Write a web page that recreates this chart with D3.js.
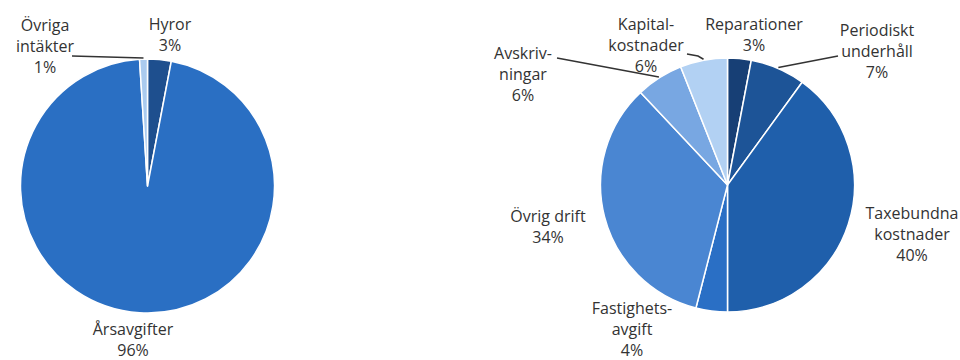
<!DOCTYPE html>
<html lang="sv">
<head>
    <meta charset="UTF-8">
    <title>Intäkter och kostnader</title>
    <script src="https://d3js.org/d3.v7.min.js"></script>
    <style>
        body { margin: 0; background: #fff; }
        text {
            font-family: "Open Sans", "Noto Sans", sans-serif;
            font-size: 16px;
            fill: #333;
        }
    </style>
</head>
<body>
    <div id="chart"></div>

    <script>
        // Data: left pie (intäkter)
        var incomeNames = ["Hyror", "Årsavgifter", "Övriga intäkter"];
        var incomeValues = [3, 96, 1];
        var incomeLabels = [["Hyror", "3%"], ["Årsavgifter", "96%"], ["Övriga", "intäkter", "1%"]];

        // Data: right pie (kostnader)
        var costNames = ["Reparationer", "Periodiskt underhåll", "Taxebundna kostnader",
            "Fastighetsavgift", "Övrig drift", "Avskrivningar", "Kapitalkostnader"];
        var costValues = [3, 7, 40, 4, 34, 6, 6];
        var costLabels = [["Reparationer", "3%"], ["Periodiskt", "underhåll", "7%"],
            ["Taxebundna", "kostnader", "40%"], ["Fastighets-", "avgift", "4%"],
            ["Övrig drift", "34%"], ["Avskriv-", "ningar", "6%"], ["Kapital-", "kostnader", "6%"]];

        var width = 960, height = 360;

        var svg = d3.select("#chart").append("svg")
            .attr("width", width)
            .attr("height", height);

        // layout for each pie: center, radius, colours, label anchors, leader lines
        var leftPie = {
            cx: 147.5, cy: 186, r: 127,
            colors: ["#1e4f8e", "#2a6fc3", "#aacbef"],
            labelPos: [[170, 30], [133, 335], [45, 31]],
            leaders: { 2: [72, 56] }
        };
        var rightPie = {
            cx: 727.5, cy: 185, r: 127,
            colors: ["#173f75", "#1d5497", "#1f5fab", "#2a6fc5", "#4a86d2", "#78a7e2", "#b2d1f3"],
            labelPos: [[754, 30], [877, 36], [912, 219], [632, 314], [548, 222], [523, 59], [646, 30]],
            leaders: { 1: [838, 56], 5: [557, 58], 6: [687, 54, 698, 56] }
        };

        function drawPie(names, values, labels, cfg) {
            var pie = d3.pie().sort(null).value(function (d) { return d; });
            var arcs = pie(values);
            var arc = d3.arc().innerRadius(0).outerRadius(cfg.r);

            var g = svg.append("g")
                .attr("transform", "translate(" + cfg.cx + "," + cfg.cy + ")");

            g.selectAll("path")
                .data(arcs)
                .join("path")
                .attr("d", arc)
                .attr("fill", function (d, i) { return cfg.colors[i]; })
                .attr("stroke", "#fff")
                .attr("stroke-width", 1.5)
                .attr("stroke-linejoin", "round");

            // leader lines go from the label to the outer edge of the slice
            Object.keys(cfg.leaders).forEach(function (k) {
                var a = arcs[k];
                var mid = (a.startAngle + a.endAngle) / 2;
                var ex = cfg.cx + Math.sin(mid) * (cfg.r + 1);
                var ey = cfg.cy - Math.cos(mid) * (cfg.r + 1);
                var p = cfg.leaders[k];
                var pts = [];
                for (var j = 0; j < p.length; j += 2) pts.push([p[j], p[j + 1]]);
                pts.push([ex, ey]);
                svg.append("path")
                    .attr("d", d3.line()(pts))
                    .attr("fill", "none")
                    .attr("stroke", "#333")
                    .attr("stroke-width", 1.5);
            });

            // labels
            labels.forEach(function (lines, i) {
                var t = svg.append("text")
                    .attr("text-anchor", "middle")
                    .attr("x", cfg.labelPos[i][0])
                    .attr("y", cfg.labelPos[i][1]);
                lines.forEach(function (s, j) {
                    t.append("tspan")
                        .attr("x", cfg.labelPos[i][0])
                        .attr("dy", j === 0 ? 0 : 21)
                        .text(s);
                });
            });
        }

        drawPie(incomeNames, incomeValues, incomeLabels, leftPie);
        drawPie(costNames, costValues, costLabels, rightPie);
    </script>
</body>
</html>
